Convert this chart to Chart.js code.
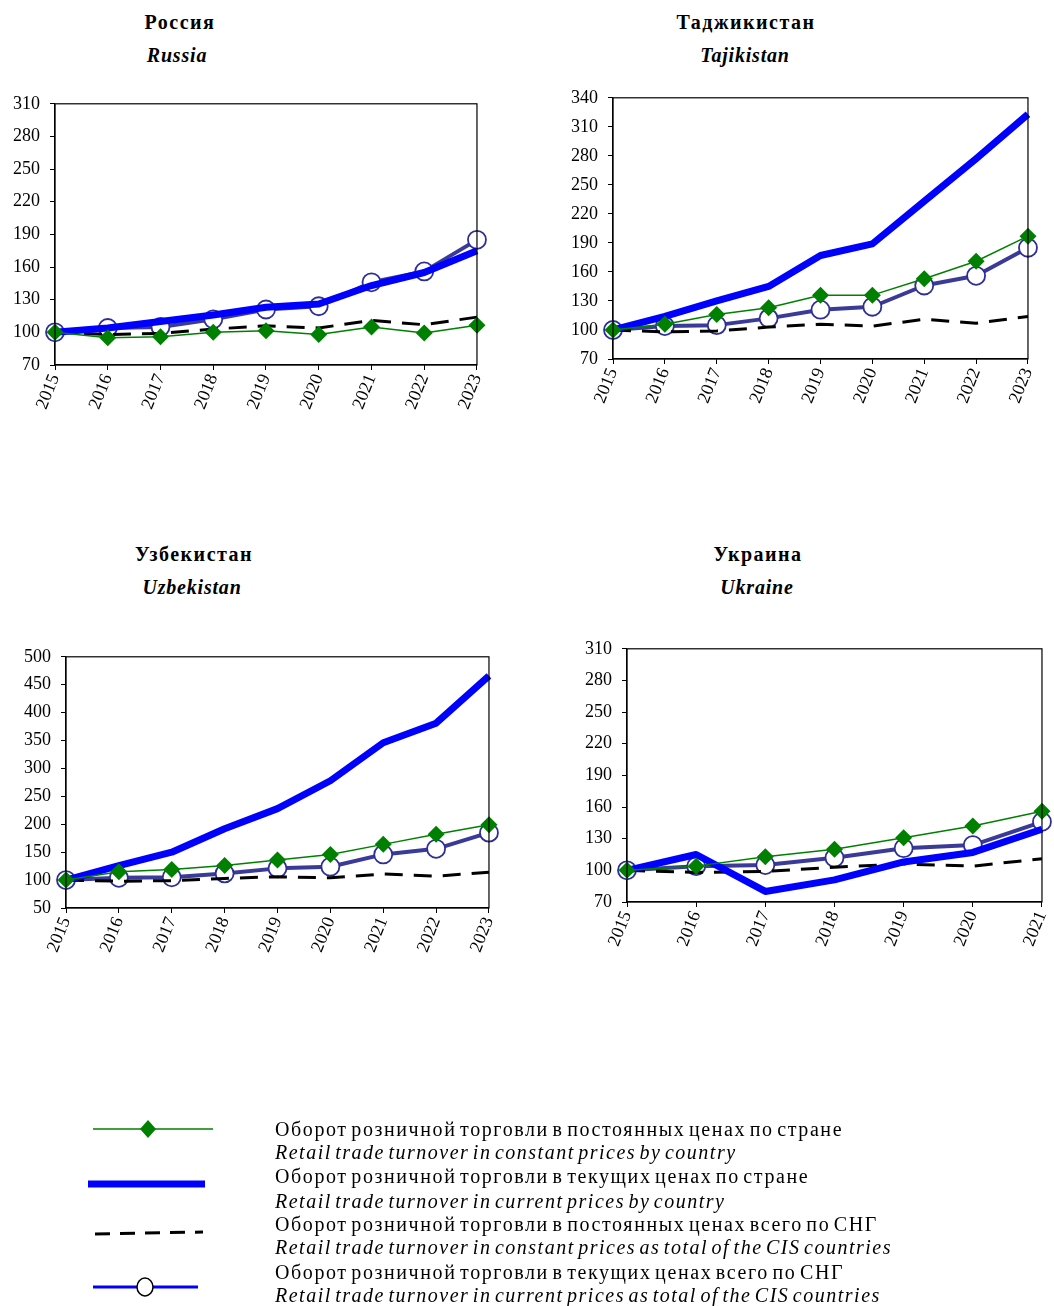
<!DOCTYPE html>
<html>
<head>
<meta charset="utf-8">
<script src="https://cdn.jsdelivr.net/npm/chart.js@4.4.1/dist/chart.umd.min.js"></script>
<style>
  body { margin: 0; background: #fff; width: 1054px; height: 1306px; position: relative; overflow: hidden; font-family: "Liberation Serif", serif; }
  .box { position: absolute; }
  .ttl { position: absolute; transform: translate(-50%, -50%); font-weight: bold; font-size: 20px; letter-spacing: 1.5px; white-space: nowrap; color: #000; }
  .ttl.en { font-style: italic; letter-spacing: 0.8px; }
  .leg { position: absolute; left: 275px; font-size: 20px; white-space: nowrap; transform: translateY(-50%); color: #000; letter-spacing: 1.6px; word-spacing: -3px; }
  .leg.en { font-style: italic; letter-spacing: 1.5px; }
  svg { position: absolute; left: 0; top: 0; }
</style>
</head>
<body>

<div class="ttl" style="left:180px;top:22px">Россия</div>
<div class="ttl en" style="left:177px;top:55px">Russia</div>
<div class="ttl" style="left:746px;top:22px">Таджикистан</div>
<div class="ttl en" style="left:745px;top:55px">Tajikistan</div>
<div class="ttl" style="left:194px;top:554px">Узбекистан</div>
<div class="ttl en" style="left:192px;top:587px">Uzbekistan</div>
<div class="ttl" style="left:758px;top:554px">Украина</div>
<div class="ttl en" style="left:757px;top:587px">Ukraine</div>

<div class="box" style="left:0px;top:83px;width:498px;height:337px"><canvas id="chart_ru"></canvas></div>
<div class="box" style="left:560px;top:77px;width:489px;height:337px"><canvas id="chart_tj"></canvas></div>
<div class="box" style="left:0px;top:636px;width:510px;height:327px"><canvas id="chart_uz"></canvas></div>
<div class="box" style="left:570px;top:628px;width:493px;height:329px"><canvas id="chart_ua"></canvas></div>

<!-- legend samples -->
<svg width="1054" height="1306">
  <line x1="93" y1="1129" x2="213" y2="1129" stroke="#008000" stroke-width="1.5"/>
  <polygon points="148,1120 156,1129 148,1138 140,1129" fill="#008000"/>
  <line x1="88" y1="1184" x2="205" y2="1184" stroke="#0000ff" stroke-width="7"/>
  <line x1="95" y1="1234" x2="203" y2="1232" stroke="#000" stroke-width="3" stroke-dasharray="15,10"/>
  <line x1="93" y1="1287" x2="198" y2="1287" stroke="#0000ff" stroke-width="3"/>
  <ellipse cx="145" cy="1287" rx="8" ry="9" fill="#fff" stroke="#000" stroke-width="1.5"/>
</svg>
<div class="leg" style="top:1129px">Оборот розничной торговли в постоянных ценах по стране</div>
<div class="leg en" style="top:1152px">Retail trade turnover in constant prices by country</div>
<div class="leg" style="top:1176px">Оборот розничной торговли в текущих ценах по стране</div>
<div class="leg en" style="top:1201px">Retail trade turnover in current prices by country</div>
<div class="leg" style="top:1224px">Оборот розничной торговли в постоянных ценах всего по СНГ</div>
<div class="leg en" style="top:1247px">Retail trade turnover in constant prices as total of the CIS countries</div>
<div class="leg" style="top:1272px">Оборот розничной торговли в текущих ценах всего по СНГ</div>
<div class="leg en" style="top:1295px">Retail trade turnover in current prices as total of the CIS countries</div>

<script>
//Years
const years = ["2015", "2016", "2017", "2018", "2019", "2020", "2021", "2022", "2023"];
const yearsUa = ["2015", "2016", "2017", "2018", "2019", "2020", "2021"];

//CIS totals (same in every panel)
const cisConstant = [100, 98, 99, 103, 106, 104, 111, 107, 114];
const cisCurrent = [100, 104, 105, 112, 121, 124, 146, 156, 185];

//Russia
const ruConstant = [100, 95, 96, 100, 101.5, 98, 105, 99.5, 106.5];
const ruCurrent = [100, 104, 110, 116, 123, 126, 143, 155, 175];
//Tajikistan
const tjConstant = [100, 106, 116, 123, 136, 136, 153, 171, 197];
const tjCurrent = [100, 114, 130, 145, 177, 189, 233, 277, 323];
//Uzbekistan
const uzConstant = [100, 115, 119, 126, 136, 146, 164, 182, 199];
const uzCurrent = [100, 126, 150, 192, 228, 278, 346, 381, 466];
//Ukraine
const uaConstant = [100, 104, 113, 120, 131, 142, 156];
const uaCurrent = [100, 115, 80, 91, 108, 117, 139];

const FONT = "Liberation Serif";

//black frame round the plot area
const frame = {
  id: "frame",
  afterDatasetsDraw(chart) {
    const { ctx, chartArea: a } = chart;
    ctx.save();
    ctx.strokeStyle = "#000";
    ctx.lineWidth = 1.2;
    ctx.strokeRect(a.left, a.top, a.right - a.left, a.bottom - a.top);
    ctx.restore();
  },
};

const makeConfig = (labels, constant, current, yMin, yMax, yStep, yWidth) => {
  const n = labels.length;
  return {
    type: "line",
    data: {
      labels: labels,
      datasets: [
        {
          data: constant,
          borderColor: "#008000",
          backgroundColor: "#008000",
          borderWidth: 1.5,
          pointStyle: "rectRot",
          pointRadius: 8.5,
          pointBorderWidth: 0,
          pointBackgroundColor: "#008000",
        },
        {
          data: current,
          borderColor: "#0000ff",
          borderWidth: 7,
          pointRadius: 0,
        },
        {
          data: cisConstant.slice(0, n),
          borderColor: "#000",
          borderWidth: 3,
          borderDash: [18, 11],
          pointRadius: 0,
        },
        {
          data: cisCurrent.slice(0, n),
          borderColor: "#3a3a98",
          borderWidth: 4,
          pointRadius: 9,
          pointBorderWidth: 1.8,
          pointBorderColor: "#2e2e96",
          pointBackgroundColor: "#fff",
        },
      ],
    },
    options: {
      responsive: true,
      maintainAspectRatio: false,
      animation: false,
      clip: false,
      layout: { padding: { top: 12, right: 12, left: 0, bottom: 0 } },
      elements: { line: { tension: 0, borderCapStyle: "butt", borderJoinStyle: "round" } },
      scales: {
        x: {
          offset: false,
          afterFit: (axis) => { axis.height = 55; },
          grid: { display: true, drawOnChartArea: false, drawTicks: true, tickLength: 5, color: "#000" },
          border: { display: true, color: "#000", width: 1.2 },
          ticks: {
            color: "#000",
            font: { family: FONT, size: 18 },
            minRotation: 68,
            maxRotation: 68,
            padding: 1,
            autoSkip: false,
          },
        },
        y: {
          min: yMin,
          max: yMax,
          afterFit: (axis) => { axis.width = yWidth; },
          grid: { display: true, drawOnChartArea: false, drawTicks: true, tickLength: 5, color: "#000" },
          border: { display: true, color: "#000", width: 1.2 },
          ticks: {
            stepSize: yStep,
            color: "#000",
            font: { family: FONT, size: 18 },
            padding: 10,
          },
        },
      },
      plugins: {
        legend: { display: false },
        tooltip: { enabled: false },
      },
    },
    plugins: [frame],
  };
};

var chartRu = new Chart(document.getElementById("chart_ru"), makeConfig(years, ruConstant, ruCurrent, 70, 310, 30, 55));
var chartTj = new Chart(document.getElementById("chart_tj"), makeConfig(years, tjConstant, tjCurrent, 70, 340, 30, 53));
var chartUz = new Chart(document.getElementById("chart_uz"), makeConfig(years, uzConstant, uzCurrent, 50, 500, 50, 66));
var chartUa = new Chart(document.getElementById("chart_ua"), makeConfig(yearsUa, uaConstant, uaCurrent, 70, 310, 30, 57));
</script>
</body>
</html>
